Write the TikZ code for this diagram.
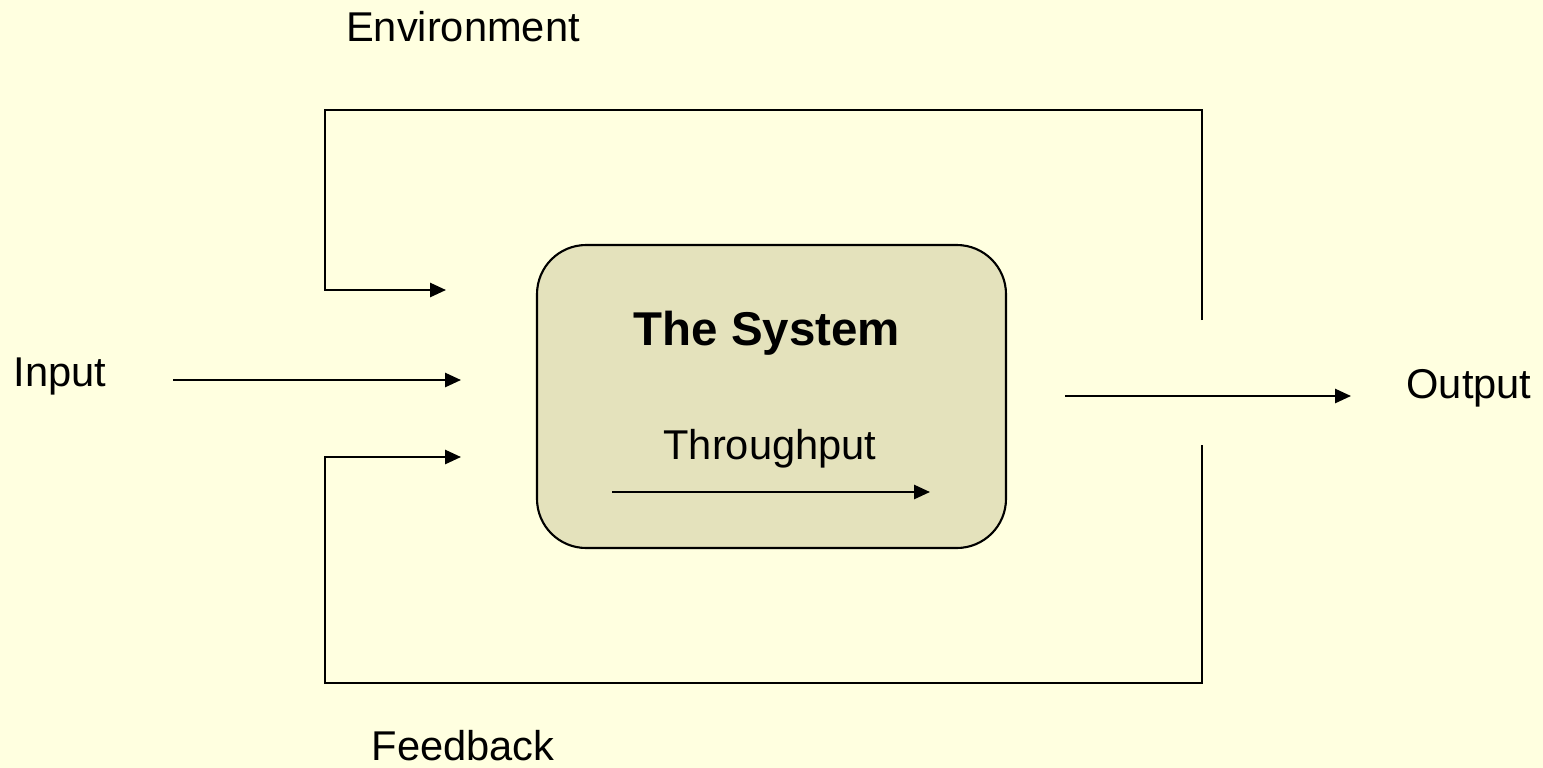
\documentclass[tikz,border=0pt]{standalone}
\usepackage{fontspec}
\setmainfont{Liberation Sans}
\usepackage{tikz}
\usetikzlibrary{arrows.meta,positioning}
\definecolor{sysbg}{RGB}{255,255,224}
\definecolor{sysfill}{RGB}{228,226,188}
\tikzstyle{arrow} = [line width=1.2pt,-{Triangle[length=9pt,width=8pt]},color=black]
\tikzstyle{label} = [inner sep=0pt, font=\fontsize{23.7}{28}\selectfont]
\tikzstyle{sysbox} = [rectangle, rounded corners=28pt, draw=black, line width=1.2pt, fill=sysfill, minimum width=469*0.02cm, minimum height=303*0.02cm]

\begin{document}
\begin{tikzpicture}[x=0.02cm, y=-0.02cm]
\fill[sysbg] (0,0) rectangle (1543,768);
\useasboundingbox (0,0) rectangle (1543,768);
% Box
\node[sysbox] (sys) at (771.5,396.5) {};
\node[label, font=\fontsize{27}{32}\selectfont\bfseries] (title) at (767,333) {The System};
\node[label] (thru) at (770,449) {Throughput};
\coordinate (t1) at (612,492);
\coordinate (t2) at (930,492);
\draw[arrow] (t1) -- (t2);
% Labels
\node[label] (env) at (463,27) {Environment};
\node[label] (inp) at (60,376) {Input};
\node[label] (out) at (1469,388) {Output};
\node[label] (fb) at (463,746) {Feedback};
% Environment loop
\coordinate (e1) at (1202,320);
\coordinate (e2) at (1202,110);
\coordinate (e3) at (325,110);
\coordinate (e4) at (325,290);
\coordinate (e5) at (446,290);
\draw[arrow] (e1) -- (e2) -- (e3) -- (e4) -- (e5);
% Input and output
\coordinate (i1) at (173,380);
\coordinate (i2) at (461,380);
\draw[arrow] (i1) -- (i2);
\coordinate (o1) at (1065,396);
\coordinate (o2) at (1351,396);
\draw[arrow] (o1) -- (o2);
% Feedback loop
\coordinate (f1) at (1202,445);
\coordinate (f2) at (1202,683);
\coordinate (f3) at (325,683);
\coordinate (f4) at (325,457);
\coordinate (f5) at (461,457);
\draw[arrow] (f1) -- (f2) -- (f3) -- (f4) -- (f5);
\end{tikzpicture}
\end{document}
